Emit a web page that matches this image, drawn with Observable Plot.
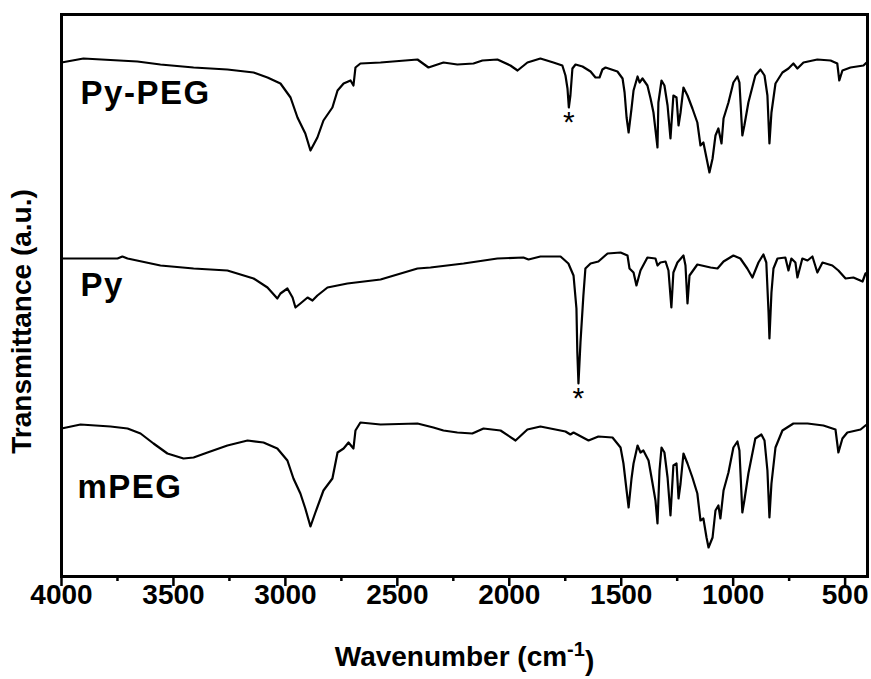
<!DOCTYPE html>
<html>
<head>
<meta charset="utf-8">
<script src="https://cdn.jsdelivr.net/npm/d3@7"></script>
<script src="https://cdn.jsdelivr.net/npm/@observablehq/plot@0.6"></script>
<style>
  html, body { margin: 0; padding: 0; background: #fff; }
</style>
</head>
<body>
<div id="chart"></div>
<script>
// FTIR spectra: [wavenumber (cm-1), transmittance (a.u., offset)]
const pyPeg = [
  [4000,102.8],[3902,103.6],[3661,103.0],[3558,102.4],[3410,101.8],[3259,101.4],[3142,100.8],
  [3080,99.8],[3022,98.6],[2977,95.8],[2946,91.8],[2911,88.6],[2888,85.2],[2857,87.8],[2830,91.2],
  [2790,93.8],[2767,97.2],[2740,98.6],[2709,99.2],[2696,98.2],[2687,101.8],[2665,102.6],[2575,102.8],
  [2410,103.4],[2361,101.8],[2294,102.8],[2232,102.4],[2160,102.6],[2120,103.2],[2053,103.4],
  [1995,102.2],[1963,101.2],[1919,102.8],[1861,103.6],[1803,102.8],[1763,102.2],[1749,100.2],
  [1740,97.6],[1734,93.8],[1727,96.2],[1718,101.6],[1704,102.4],[1673,102.0],[1637,101.0],
  [1615,99.8],[1597,99.8],[1584,101.4],[1570,101.8],[1517,101.0],[1494,99.6],[1485,96.8],
  [1476,91.8],[1467,88.8],[1454,93.6],[1445,97.2],[1427,100.0],[1418,98.8],[1405,99.6],
  [1383,98.2],[1369,95.6],[1356,92.8],[1338,85.8],[1334,94.8],[1320,99.2],[1307,98.2],
  [1293,94.2],[1280,87.6],[1267,96.2],[1253,95.8],[1244,90.2],[1235,92.8],[1222,97.8],
  [1204,96.2],[1182,93.6],[1160,90.8],[1146,86.2],[1133,86.8],[1115,82.8],[1106,80.8],
  [1092,83.6],[1079,88.2],[1066,89.6],[1052,86.6],[1043,91.6],[1021,94.8],[999,98.8],
  [981,100.0],[972,98.8],[959,88.2],[950,90.2],[932,94.8],[901,100.2],[878,101.4],[860,100.2],
  [847,96.2],[838,86.6],[829,92.8],[811,98.6],[780,100.8],[753,101.6],[731,102.6],[713,101.6],
  [686,102.8],[624,103.4],[565,103.2],[535,102.6],[526,99.2],[512,101.2],[476,101.8],
  [418,102.2],[404,102.8],[400,103.0]
];
const py = [
  [4000,63.6],[3750,63.6],[3728,64.0],[3705,63.6],[3558,62.2],[3410,61.6],[3259,61.2],
  [3142,59.6],[3080,57.8],[3036,55.6],[3022,56.6],[2991,57.6],[2968,55.8],[2955,53.8],
  [2933,54.6],[2901,55.8],[2879,55.2],[2857,56.2],[2812,57.8],[2723,58.6],[2575,59.4],
  [2410,61.6],[2352,61.8],[2204,62.6],[2053,63.6],[1937,63.8],[1914,63.4],[1861,64.0],
  [1771,64.0],[1736,62.6],[1713,60.2],[1700,53.6],[1696,44.8],[1691,38.6],[1682,46.8],
  [1669,56.2],[1660,61.6],[1637,62.6],[1602,63.0],[1561,64.6],[1503,64.8],[1472,64.2],
  [1463,61.6],[1445,60.8],[1432,58.2],[1414,61.2],[1383,63.8],[1347,63.6],[1338,62.2],
  [1325,62.8],[1302,63.0],[1289,61.2],[1276,53.8],[1267,60.8],[1249,62.8],[1222,64.2],
  [1213,62.2],[1204,54.6],[1195,60.2],[1160,62.4],[1101,61.8],[1070,61.6],[1043,63.0],
  [999,64.2],[968,63.6],[937,61.6],[914,59.8],[887,62.8],[865,64.4],[852,62.8],[842,52.8],
  [838,47.6],[829,56.8],[820,61.6],[802,63.6],[767,63.8],[753,61.2],[740,63.6],[722,62.8],
  [713,59.8],[691,63.6],[668,63.2],[646,64.0],[624,60.8],[601,62.8],[557,62.2],[530,61.2],
  [498,59.6],[463,59.8],[422,59.0],[409,60.6],[400,60.8]
];
const mPeg = [
  [4000,29.6],[3915,30.4],[3781,30.0],[3705,29.6],[3647,28.6],[3589,26.6],[3527,24.6],
  [3455,23.6],[3410,23.8],[3348,24.8],[3259,26.2],[3169,27.2],[3098,26.8],[3036,25.6],
  [2991,23.2],[2964,19.6],[2933,16.6],[2911,13.6],[2888,10.0],[2866,12.8],[2830,17.2],
  [2790,19.6],[2767,24.8],[2740,25.6],[2718,26.8],[2696,25.6],[2687,29.2],[2665,30.8],
  [2575,30.4],[2410,30.6],[2339,29.8],[2294,29.2],[2232,28.8],[2165,28.6],[2115,29.6],
  [2039,29.2],[1972,27.2],[1919,29.4],[1861,30.0],[1749,29.0],[1727,28.4],[1713,28.8],
  [1646,27.2],[1602,28.0],[1539,27.8],[1503,25.8],[1490,22.6],[1476,17.2],[1467,13.8],
  [1454,19.6],[1445,22.6],[1427,26.2],[1414,24.8],[1401,25.2],[1378,23.2],[1360,18.6],
  [1347,15.2],[1338,10.6],[1329,21.2],[1320,25.8],[1307,24.8],[1293,19.8],[1280,12.2],
  [1267,22.2],[1253,22.6],[1244,15.6],[1235,18.6],[1222,24.6],[1204,22.6],[1182,19.8],
  [1160,16.6],[1146,11.2],[1133,11.6],[1119,7.8],[1110,5.8],[1092,7.8],[1079,13.2],
  [1066,14.2],[1057,11.6],[1043,17.2],[1021,20.8],[999,25.8],[981,27.0],[972,25.2],
  [959,12.8],[950,15.2],[932,20.6],[901,27.6],[874,28.4],[860,27.2],[847,21.2],[838,11.8],
  [829,18.6],[811,25.8],[780,29.2],[731,30.6],[668,30.6],[597,30.2],[543,29.4],[530,24.8],
  [512,27.6],[490,28.8],[431,29.4],[409,30.2],[400,30.4]
];
const seriesNames = ["Py-PEG", "Py", "mPEG"];
const majorTicks = [4000, 3500, 3000, 2500, 2000, 1500, 1000, 500];
const minorTicks = [3750, 3250, 2750, 2250, 1750, 1250, 750];
const markedPeaks = [[1734, 93.8], [1691, 38.6]]; // asterisked C=O bands

const font = "'Liberation Sans', Arial, Helvetica, sans-serif";
const X = d => d[0], Y = d => d[1];

const labels = [
  {name: seriesNames[0], wn: 3915, t: 96.6},
  {name: seriesNames[1], wn: 3915, t: 58.3},
  {name: seriesNames[2], wn: 3929, t: 17.8}
];

const svg = Plot.plot({
  width: 871,
  height: 679,
  marginLeft: 61,
  marginRight: 4,
  marginTop: 14,
  marginBottom: 103,
  style: {fontFamily: font, background: "#fff", color: "#000"},
  x: {domain: [4000, 400]},
  y: {domain: [0, 112.4], axis: null},
  marks: [
    Plot.line(pyPeg, {x: X, y: Y, stroke: "#000", strokeWidth: 2.2}),
    Plot.line(py, {x: X, y: Y, stroke: "#000", strokeWidth: 2.2}),
    Plot.line(mPeg, {x: X, y: Y, stroke: "#000", strokeWidth: 2.2}),
    Plot.text(labels, {x: "wn", y: "t", text: "name", textAnchor: "start", fontSize: 33, fontWeight: "bold", fill: "#000"}),
    Plot.text(markedPeaks, {x: X, y: Y, text: () => "*", dy: 15, fontSize: 30, fill: "#000"}),
    Plot.axisX(majorTicks, {tickSize: 10, tickPadding: -2, tickFormat: d => String(d), fontSize: 28, fontWeight: "bold", strokeWidth: 2.5, label: null, fill: "#000", stroke: "#000"}),
    Plot.axisX(minorTicks, {tickSize: 5, tickFormat: () => "", strokeWidth: 2.5, label: null, stroke: "#000"}),
    Plot.text(["Wavenumber (cm-1)"], {frameAnchor: "bottom", dy: 89, fontSize: 28, fontWeight: "bold", fill: "#000"}),
    Plot.text(["Transmittance (a.u.)"], {frameAnchor: "left", textAnchor: "middle", rotate: -90, dx: -39, dy: 26, fontSize: 28, fontWeight: "bold", fill: "#000"}),
    Plot.frame({stroke: "#000", strokeWidth: 3})
  ]
});

// superscript for the unit, wider tracking for the curve labels
d3.select(svg).selectAll("text").each(function () {
  const s = this.textContent;
  if (s === "Wavenumber (cm-1)") {
    const t = d3.select(this);
    t.text(null);
    t.append("tspan").text("Wavenumber (cm");
    t.append("tspan").attr("dy", "-0.5em").attr("font-size", "20px").text("-1");
    t.append("tspan").attr("dy", "0.5em").text(")");
  } else if (seriesNames.includes(s)) {
    d3.select(this).style("letter-spacing", "1.5px");
  }
});

document.getElementById("chart").appendChild(svg);
</script>
</body>
</html>
